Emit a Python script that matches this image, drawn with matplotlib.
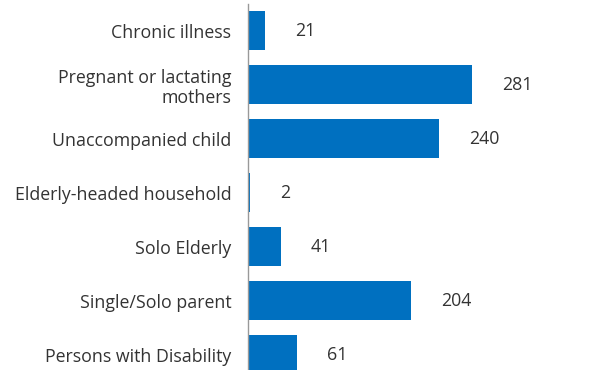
import matplotlib
matplotlib.use("Agg")
import matplotlib.pyplot as plt

plt.rcParams['font.family'] = ['Open Sans', 'DejaVu Sans']

categories = ["Chronic illness", "Pregnant or lactating\nmothers", "Unaccompanied child",
              "Elderly-headed household", "Solo Elderly", "Single/Solo parent",
              "Persons with Disability"]
values = [21, 281, 240, 2, 41, 204, 61]

fig = plt.figure(figsize=(6.01, 3.70), dpi=100)
ax = fig.add_axes([248/601, -11.5/370, 353/601, 378/370])

pos = list(range(len(categories)))
ax.barh(pos, values, height=0.72, color="#0070C0")
ax.set_ylim(len(categories) - 0.5, -0.5)
ax.set_xlim(0, 443)

for p, v in zip(pos, values):
    ax.text(v + 38, p, str(v), va="center", ha="left", fontsize=12.8, color="#333333")

ax.set_yticks(pos)
ax.set_yticklabels(categories, fontsize=12.8, color="#333333", ha="right",
                   linespacing=1.15)
ax.tick_params(axis="y", length=0, pad=12)
ax.set_xticks([])
for s in ["top", "right", "bottom"]:
    ax.spines[s].set_visible(False)
ax.spines["left"].set_color("#999999")
ax.spines["left"].set_linewidth(1)

fig.savefig("out.png", dpi=100)
